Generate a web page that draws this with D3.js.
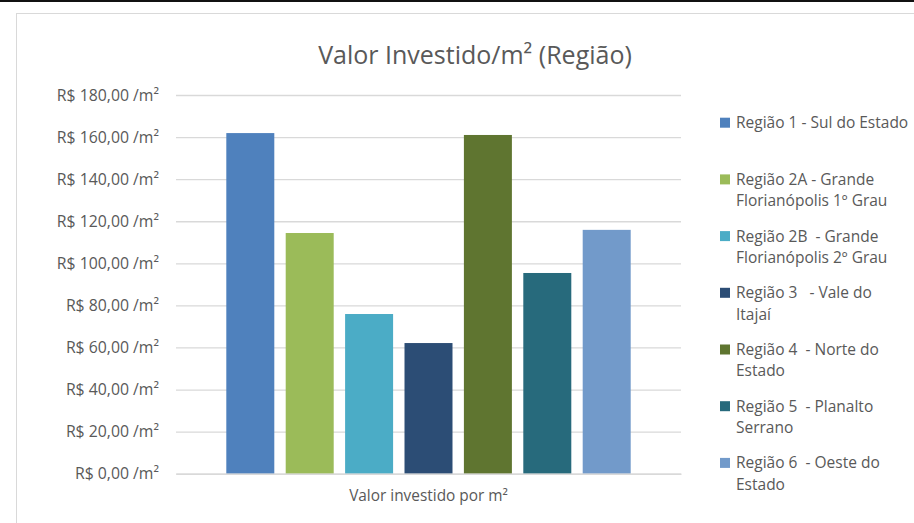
<!DOCTYPE html>
<html>
<head>
<meta charset="utf-8">
<script src="https://cdn.jsdelivr.net/npm/d3@7"></script>
<style>
  html, body { margin: 0; padding: 0; background: #fff; }
  svg { display: block; font-family: "Open Sans", sans-serif; }
  svg text { white-space: pre; }
</style>
</head>
<body>
<svg id="chart"></svg>
<script>
const category = "Valor investido por m²";
const regions = [
  "Região 1 - Sul do Estado",
  "Região 2A - Grande Florianópolis 1º Grau",
  "Região 2B  - Grande Florianópolis 2º Grau",
  "Região 3   - Vale do Itajaí",
  "Região 4  - Norte do Estado",
  "Região 5  - Planalto Serrano",
  "Região 6  - Oeste do Estado"
];
// legend lines as they wrap in the original
const legendLines = [
  ["Região 1 - Sul do Estado"],
  ["Região 2A - Grande", "Florianópolis 1º Grau"],
  ["Região 2B  - Grande", "Florianópolis 2º Grau"],
  ["Região 3   - Vale do", "Itajaí"],
  ["Região 4  - Norte do", "Estado"],
  ["Região 5  - Planalto", "Serrano"],
  ["Região 6  - Oeste do", "Estado"]
];
const values = [161.9, 114.4, 75.9, 62.1, 161.0, 95.4, 115.9];
const colors = ["#4f81bd", "#9bbb59", "#4bacc6", "#2c4d75", "#5f7530", "#276a7c", "#729aca"];
const yTicks = [0, 20, 40, 60, 80, 100, 120, 140, 160, 180];

const width = 914;
const height = 523;
const plot = { left: 176, right: 681, top: 95, bottom: 473.7 };

const svg = d3.select("#chart").attr("width", width).attr("height", height);

// top dark strip and chart frame
svg.append("rect").attr("x", 0).attr("y", 0).attr("width", width).attr("height", 2).attr("fill", "#111");
svg.append("rect")
  .attr("x", 16.5).attr("y", 13.5)
  .attr("width", width + 10).attr("height", height + 10)
  .attr("fill", "#fff").attr("stroke", "#d9d9d9");

const fmt = (v) => "R$ " + d3.format(".2f")(v).replace(".", ",") + " /m²";

const y = d3.scaleLinear().domain([0, 180]).range([plot.bottom, plot.top]);
const x0 = d3.scaleBand().domain([category]).range([plot.left, plot.right]).paddingOuter(0.1244).paddingInner(0);
const x1 = d3.scaleBand().domain(regions).range([0, x0.bandwidth()]).paddingInner(0.192).paddingOuter(0);

// gridlines + y labels
const yAxis = svg.append("g")
  .attr("transform", `translate(${plot.left},0)`)
  .call(d3.axisLeft(y).tickValues(yTicks).tickFormat(fmt)
    .tickSize(-(plot.right - plot.left)).tickPadding(17));
yAxis.select(".domain").remove();
yAxis.selectAll(".tick line").attr("stroke", "#d9d9d9").attr("stroke-width", 1.3);
yAxis.selectAll(".tick text").attr("fill", "#595959").attr("font-size", 15.8)
  .attr("font-family", "'Open Sans', sans-serif");

// bars
svg.append("g")
  .attr("transform", `translate(${x0(category)},0)`)
  .selectAll("rect")
  .data(regions)
  .join("rect")
  .attr("x", (d) => x1(d))
  .attr("width", x1.bandwidth())
  .attr("y", (d, i) => y(values[i]))
  .attr("height", (d, i) => y(0) - y(values[i]))
  .attr("fill", (d, i) => colors[i]);

// x axis line + category label
const xAxis = svg.append("g")
  .attr("transform", `translate(0,${plot.bottom})`)
  .call(d3.axisBottom(x0).tickSize(0).tickPadding(16));
xAxis.select(".domain").attr("stroke", "#d9d9d9").attr("stroke-width", 1.5);
xAxis.selectAll(".tick text").attr("fill", "#595959").attr("font-size", 15.4)
  .attr("font-family", "'Open Sans', sans-serif");

// title
svg.append("text")
  .attr("x", 475).attr("y", 64)
  .attr("text-anchor", "middle")
  .attr("fill", "#595959")
  .attr("font-size", 25)
  .text("Valor Investido/m² (Região)");

// legend
const legend = svg.append("g").attr("transform", "translate(720,0)");
const entry = legend.selectAll("g")
  .data(legendLines)
  .join("g")
  .attr("transform", (d, i) => `translate(0,${122.7 + i * 56.7})`);
entry.append("rect")
  .attr("x", 0).attr("y", -5).attr("width", 10).attr("height", 10)
  .attr("fill", (d, i) => colors[i]);
entry.selectAll("text")
  .data((d) => d)
  .join("text")
  .attr("x", 16)
  .attr("y", (d, j) => j * 21.5)
  .attr("dy", "0.35em")
  .attr("fill", "#595959")
  .attr("font-size", 15.5)
  .text((d) => d);
</script>
</body>
</html>
